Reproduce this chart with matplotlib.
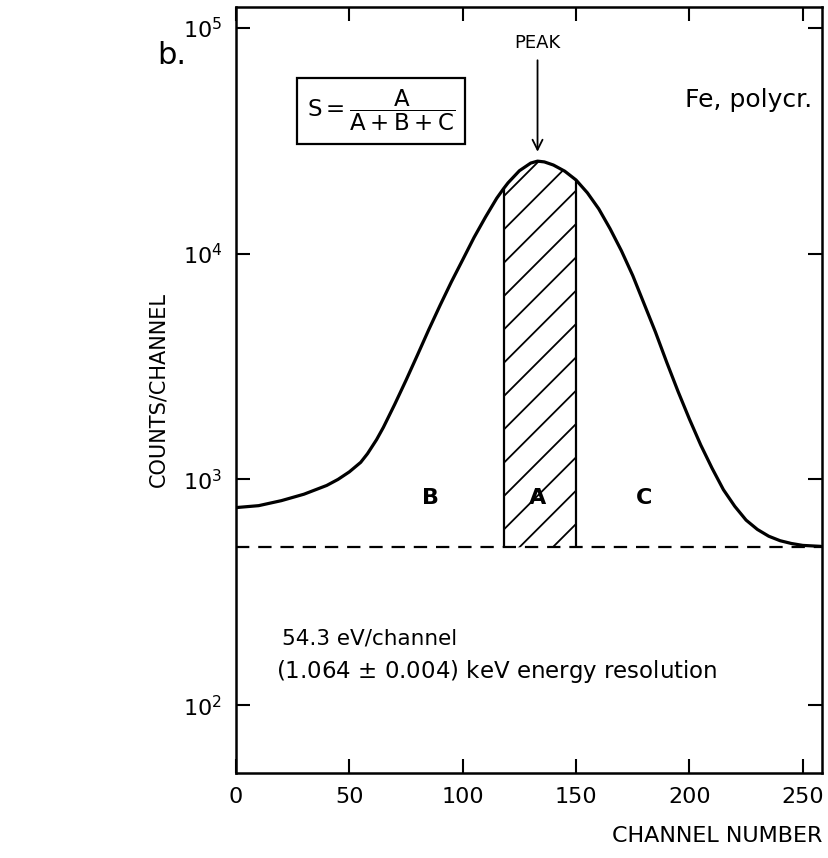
import numpy as np
import matplotlib.pyplot as plt

# curve (channel, counts/channel)
channel = [0, 10, 20, 30, 40, 45, 50, 55, 58, 62, 65, 70, 75, 80, 85, 90,
           95, 100, 105, 110, 115, 118, 120, 125, 130, 133, 136, 140, 145,
           150, 155, 160, 165, 170, 175, 180, 185, 190, 195, 200, 205, 210,
           215, 220, 225, 230, 235, 240, 245, 250, 258]
counts = [750, 765, 805, 860, 940, 1000, 1080, 1190, 1300, 1500, 1700, 2150,
          2750, 3550, 4600, 5900, 7500, 9400, 11800, 14500, 17600, 19400,
          20600, 23300, 25200, 25700, 25500, 24700, 23200, 21200, 18600,
          15800, 12900, 10300, 8000, 6000, 4500, 3300, 2450, 1850, 1420,
          1120, 900, 760, 660, 600, 560, 535, 520, 510, 505]

background = 500
peak_lo, peak_hi = 118, 150
peak_ch = 133

xticks = [0, 50, 100, 150, 200, 250]
yticks = [1e2, 1e3, 1e4, 1e5]

region_labels = ['B', 'A', 'C']
region_x = [86, 133, 180]

plt.rcParams['font.family'] = 'DejaVu Sans'
plt.rcParams['mathtext.fontset'] = 'dejavusans'
plt.rcParams['mathtext.default'] = 'regular'
plt.rcParams['hatch.linewidth'] = 1.3

fig = plt.figure(figsize=(8.29, 8.58), dpi=100)
ax = fig.add_axes([0.2847, 0.099, 0.7069, 0.893])

ch = np.array(channel)
ct = np.array(counts)

ax.plot(ch, ct, color='black', lw=2.3, solid_capstyle='round')
ax.axhline(background, color='black', lw=1.6, ls=(0, (6, 4)))

# hatched peak region A
m = (ch >= peak_lo) & (ch <= peak_hi)
ax.fill_between(ch[m], background, ct[m], facecolor='none', edgecolor='black',
                hatch='/', lw=0)
ax.vlines([ch[m][0], ch[m][-1]], background, [ct[m][0], ct[m][-1]],
          color='black', lw=1.6)

for lab, xv in zip(region_labels, region_x):
    ax.text(xv, 830, lab, ha='center', va='center', fontsize=16,
            fontweight='bold')

ax.annotate('', xy=(peak_ch, 27500), xytext=(peak_ch, 74000),
            arrowprops=dict(arrowstyle='->', color='black', lw=1.3,
                            mutation_scale=18))
ax.text(peak_ch, 78000, 'PEAK', ha='center', va='bottom', fontsize=13)

ax.text(254, 48000, 'Fe, polycr.', ha='right', va='center', fontsize=18)

ax.text(64, 43000, r'$S = \dfrac{A}{A + B + C}$', ha='center', va='center',
        fontsize=16.5,
        bbox=dict(boxstyle='square,pad=0.45', facecolor='white',
                  edgecolor='black', lw=1.6))

ax.text(20.5, 197, '54.3 eV/channel', ha='left', va='center', fontsize=15.5)
ax.text(17.5, 141, '(1.064 $\\pm$ 0.004) keV energy resolution', ha='left',
        va='center', fontsize=16.5)

ax.set_yscale('log')
ax.set_xlim(0, 258.5)
ax.set_ylim(50, 1.24e5)
ax.set_xticks(xticks)
ax.set_xticklabels([str(v) for v in xticks])
ax.set_yticks(yticks)
ax.minorticks_off()
ax.tick_params(direction='in', length=10, width=1.5, labelsize=16,
               top=True, right=True, pad=10)
for s in ax.spines.values():
    s.set_linewidth(1.8)

ax.set_ylabel('COUNTS/CHANNEL', fontsize=15, labelpad=10)
ax.text(1.0, -0.082, 'CHANNEL NUMBER', transform=ax.transAxes, ha='right',
        va='center', fontsize=16)
fig.text(0.19, 0.935, 'b.', fontsize=22, ha='left', va='center')

fig.savefig('out.png', dpi=100)
